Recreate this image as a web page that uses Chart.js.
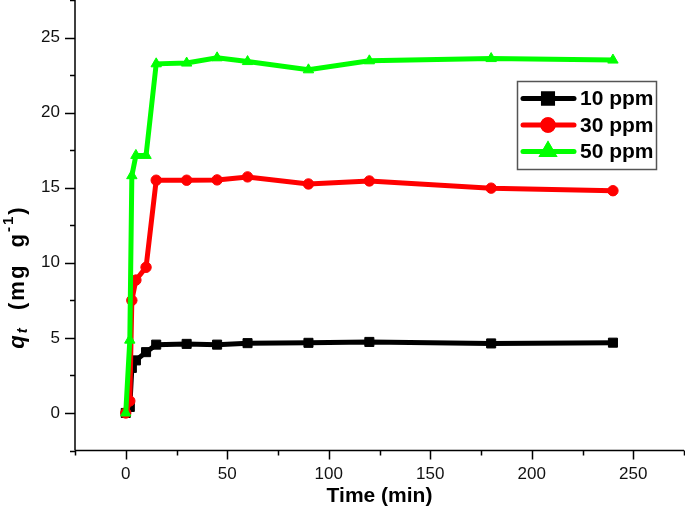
<!DOCTYPE html>
<html><head><meta charset="utf-8">
<script src="https://cdn.jsdelivr.net/npm/chart.js@4/dist/chart.umd.min.js"></script>
<style>html,body{margin:0;padding:0;background:#fff;}canvas{display:block;}</style>
</head><body>
<canvas id="c" width="685" height="509"></canvas>
<script>
// ---- data ----
const times = [0, 2, 3, 5, 10, 15, 30, 45, 60, 90, 120, 180, 240];
const q10ppm = [0, 0.4, 3.0, 3.5, 4.05, 4.55, 4.6, 4.55, 4.65, 4.67, 4.73, 4.63, 4.68];
const q30ppm = [0, 0.8, 7.5, 8.85, 9.7, 15.5, 15.5, 15.52, 15.72, 15.25, 15.45, 14.97, 14.8];
const q50ppm = [0, 4.85, 15.8, 17.15, 17.15, 23.25, 23.3, 23.65, 23.4, 22.85, 23.45, 23.6, 23.5];
const seriesLabels = ['10 ppm', '30 ppm', '50 ppm'];
const xTickLabels = [0, 50, 100, 150, 200, 250];
const yTickLabels = [0, 5, 10, 15, 20, 25];
const xTitle = 'Time (min)';

const FONT = '"Liberation Sans", Arial, Helvetica, sans-serif';
const toXY = (arr) => arr.map((v, i) => ({x: times[i], y: v}));

const axesPlugin = {
  id: 'axesPlugin',
  afterDraw(chart) {
    const ctx = chart.ctx, a = chart.chartArea;
    const xs = chart.scales.x, ys = chart.scales.y;
    ctx.save();
    ctx.strokeStyle = '#000';
    ctx.lineWidth = 1.5;
    ctx.beginPath();
    ctx.moveTo(a.left, a.top); ctx.lineTo(a.left, a.bottom);
    ctx.moveTo(a.left, a.bottom); ctx.lineTo(a.right, a.bottom);
    ctx.stroke();
    // ticks
    ctx.beginPath();
    xs.ticks.forEach(t => {
      const px = Math.round(xs.getPixelForValue(t.value)) + 0.5;
      const major = xTickLabels.includes(t.value);
      ctx.moveTo(px, a.bottom); ctx.lineTo(px, a.bottom + (major ? 9 : 5));
    });
    ys.ticks.forEach(t => {
      const py = Math.round(ys.getPixelForValue(t.value)) + 0.5;
      const major = yTickLabels.includes(t.value);
      ctx.moveTo(a.left, py); ctx.lineTo(a.left - (major ? 10 : 5), py);
    });
    ctx.stroke();

    // x title
    ctx.fillStyle = '#000';
    ctx.font = 'bold 21px ' + FONT;
    ctx.textAlign = 'center';
    ctx.textBaseline = 'middle';
    ctx.fillText(xTitle, (a.left + a.right) / 2, 496);

    // y title: q_t (mg g^-1)
    const parts = [
      {t: 'q', f: 'italic bold 22px ' + FONT, dy: 0},
      {t: 't', f: 'italic bold 15px ' + FONT, dy: 5},
      {t: '  (mg  g', f: 'bold 22px ' + FONT, dy: 0},
      {t: '-1', f: 'bold 15px ' + FONT, dy: -9},
      {t: ')', f: 'bold 22px ' + FONT, dy: 0}
    ];
    ctx.letterSpacing = '2px';
    let total = 0;
    parts.forEach(p => { ctx.font = p.f; p.w = ctx.measureText(p.t).width; total += p.w; });
    ctx.translate(18, 277);
    ctx.rotate(-Math.PI / 2);
    ctx.textAlign = 'left';
    let cx = -total / 2;
    parts.forEach(p => { ctx.font = p.f; ctx.fillText(p.t, cx, p.dy); cx += p.w; });
    ctx.restore();

    // legend
    ctx.save();
    ctx.strokeStyle = '#555';
    ctx.lineWidth = 1.5;
    ctx.strokeRect(517.5, 81.5, 139, 88);
    const rowsY = [98.5, 125, 151.5];
    chart.data.datasets.forEach((ds, i) => {
      const y = rowsY[i];
      ctx.strokeStyle = ds.borderColor;
      ctx.lineWidth = 5;
      ctx.lineCap = 'round';
      ctx.beginPath(); ctx.moveTo(523, y); ctx.lineTo(574, y); ctx.stroke();
      Chart.helpers.drawPoint(ctx, {pointStyle: ds.pointStyle, radius: ds.pointRadius, borderWidth: 1, rotation: 0}, 548, y);
      ctx.fillStyle = ds.backgroundColor;
      ctx.strokeStyle = ds.borderColor;
      ctx.fill(); ctx.stroke();
      ctx.fillStyle = '#000';
      ctx.font = 'bold 21px ' + FONT;
      ctx.textAlign = 'left';
      ctx.textBaseline = 'middle';
      ctx.fillText(ds.label, 580, y + 1);
    });
    ctx.restore();
  }
};

const mk = (label, data, color, style, r, order) => ({
  label, data: toXY(data), borderColor: color, backgroundColor: color,
  pointBackgroundColor: color, pointBorderColor: color, borderWidth: 5,
  pointStyle: style, pointRadius: r, pointHoverRadius: r, pointBorderWidth: 1,
  tension: 0, order, clip: false
});

new Chart(document.getElementById('c'), {
  type: 'line',
  data: {
    datasets: [
      mk(seriesLabels[0], q10ppm, '#000000', 'rect', 6.4, 2),
      mk(seriesLabels[1], q30ppm, '#ff0000', 'circle', 5.2, 1),
      mk(seriesLabels[2], q50ppm, '#00ff00', 'triangle', 6, 0)
    ]
  },
  options: {
    responsive: false, animation: false, devicePixelRatio: 1,
    layout: {autoPadding: false, padding: {left: 0, right: 1, top: 0, bottom: 0}},
    plugins: {legend: {display: false}, tooltip: {enabled: false}},
    scales: {
      x: {
        type: 'linear', min: -25, max: 275,
        grid: {display: false, drawTicks: false}, border: {display: false},
        ticks: {stepSize: 25, padding: 14, color: '#111', font: {family: FONT, size: 17},
          callback: v => xTickLabels.includes(v) ? String(v) : ''},
        afterFit: s => { s.height = 58.5; s.paddingLeft = 0; s.paddingRight = 0; }
      },
      y: {
        type: 'linear', min: -2.5, max: 27.5,
        grid: {display: false, drawTicks: false}, border: {display: false},
        ticks: {stepSize: 2.5, padding: 15, color: '#111', font: {family: FONT, size: 17},
          callback: v => yTickLabels.includes(v) ? String(v) : ''},
        afterFit: s => { s.width = 75; s.paddingTop = 0; s.paddingBottom = 0; }
      }
    }
  },
  plugins: [axesPlugin]
});
</script>
</body></html>
